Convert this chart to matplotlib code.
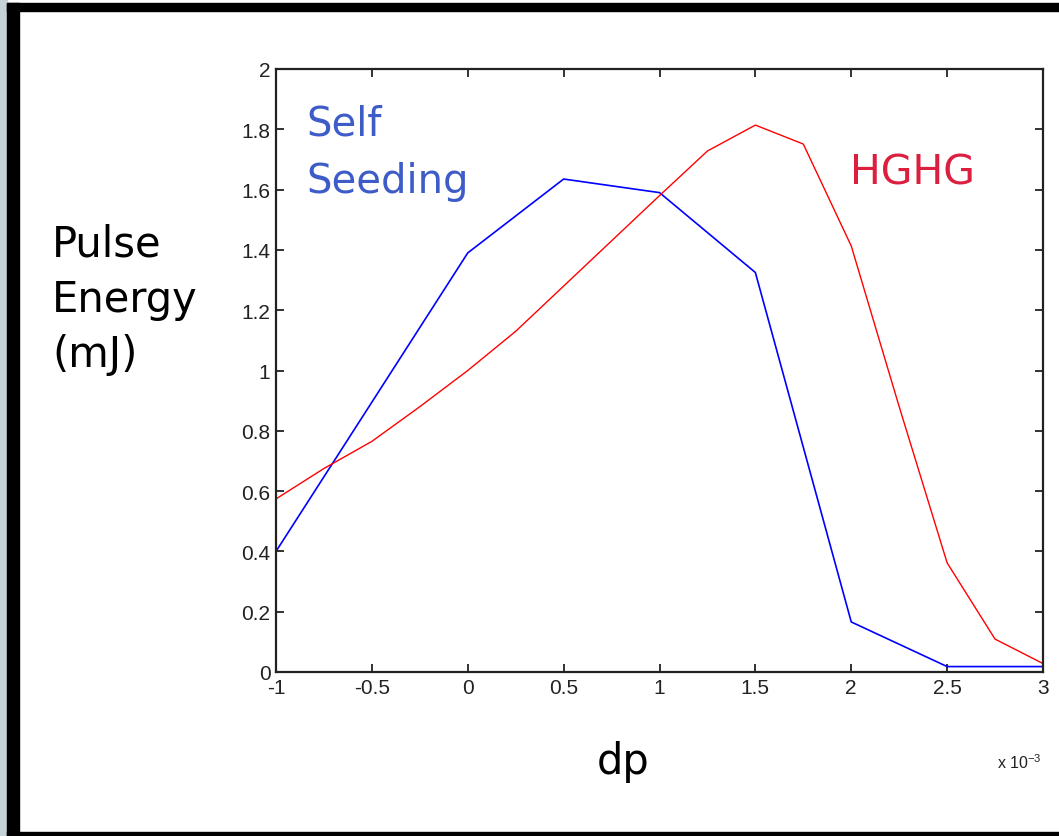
import matplotlib.pyplot as plt
from matplotlib.patches import Rectangle

# dp in units of 1e-3
dp_seed = [-1, 0, 0.5, 1, 1.5, 2, 2.5, 3]
energy_seed = [0.40, 1.39, 1.635, 1.59, 1.325, 0.166, 0.018, 0.018]

dp_hghg = [-1, -0.75, -0.5, -0.25, 0, 0.25, 0.5, 0.75, 1, 1.25, 1.5, 1.75, 2, 2.25, 2.5, 2.75, 3]
energy_hghg = [0.574, 0.675, 0.765, 0.88, 1.0, 1.13, 1.28, 1.43, 1.58, 1.728, 1.814, 1.751,
               1.413, 0.88, 0.362, 0.109, 0.028]

x_ticks = [-1, -0.5, 0, 0.5, 1, 1.5, 2, 2.5, 3]
x_labels = ['-1', '-0.5', '0', '0.5', '1', '1.5', '2', '2.5', '3']
y_ticks = [0, 0.2, 0.4, 0.6, 0.8, 1, 1.2, 1.4, 1.6, 1.8, 2]
y_labels = ['0', '0.2', '0.4', '0.6', '0.8', '1', '1.2', '1.4', '1.6', '1.8', '2']

W, H = 1059, 837
fig = plt.figure(figsize=(W / 100, H / 100), dpi=100)
fig.patch.set_facecolor('white')

# picture frame
fig.patches.append(Rectangle((0, 0), 7 / W, 1, transform=fig.transFigure, color='#c5d2d6', zorder=0))
fig.patches.append(Rectangle((7 / W, 0), 12 / W, 1 - 4 / H, transform=fig.transFigure, color='black', zorder=0))
fig.patches.append(Rectangle((7 / W, 1 - 12 / H), 1, 8 / H, transform=fig.transFigure, color='black', zorder=0))
fig.patches.append(Rectangle((7 / W, 0), 1, 4 / H, transform=fig.transFigure, color='black', zorder=0))

ax = fig.add_axes([276 / W, 1 - 673 / H, (1043 - 276) / W, (673 - 70) / H])
ax.plot(dp_seed, energy_seed, color='#0000ff', linewidth=1.2)
ax.plot(dp_hghg, energy_hghg, color='#ff0000', linewidth=1.0)

ax.set_xlim(-1, 3)
ax.set_ylim(0, 2)
ax.set_xticks(x_ticks)
ax.set_xticklabels(x_labels)
ax.set_yticks(y_ticks)
ax.set_yticklabels(y_labels)
ax.tick_params(direction='in', length=6, width=1.3, top=True, right=True,
               labelsize=15, colors='#222222', pad=4)
for lab in ax.get_xticklabels() + ax.get_yticklabels():
    lab.set_family('Liberation Sans')
for s in ax.spines.values():
    s.set_linewidth(1.6)
    s.set_color('#222222')

ax.text(0.998, -0.148, r'x 10$^{\mathregular{-3}}$', transform=ax.transAxes, ha='right', va='center',
        fontsize=11.5, family='Liberation Sans', color='#222222')

ax.text(0.04, 0.862, 'Self\nSeeding', transform=ax.transAxes, ha='left', va='center',
        fontsize=29, color='#3e5cc8', linespacing=1.55)
ax.text(0.749, 0.828, 'HGHG', transform=ax.transAxes, ha='left', va='center',
        fontsize=29.5, color='#dc1e3f')

fig.text(52 / W, 1 - 300 / H, 'Pulse\nEnergy\n(mJ)', ha='left', va='center',
         fontsize=30, color='black', linespacing=1.4)
fig.text(623 / W, 1 - 762 / H, 'dp', ha='center', va='center', fontsize=30, color='black')

fig.savefig('out.png', dpi=100)
